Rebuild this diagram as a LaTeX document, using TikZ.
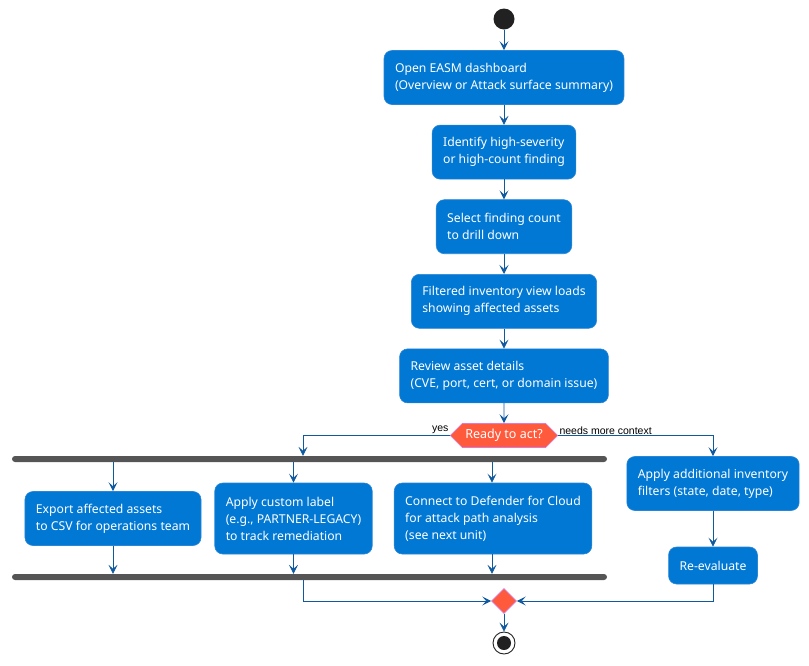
\documentclass[tikz,border=0pt]{standalone}
\usepackage{fontspec}
\setmainfont{Noto Sans}
\newfontfamily\labelfont{Liberation Sans}
\usepackage{xcolor}
\usepackage{tikz}
\usetikzlibrary{shapes.geometric, shapes.symbols, arrows.meta, positioning}
\definecolor{stepblue}{HTML}{0078D4}
\definecolor{stepedge}{HTML}{2B85D6}
\definecolor{flowline}{HTML}{0F5A9E}
\definecolor{choicered}{HTML}{FF5A3C}
\definecolor{choiceedge}{HTML}{D77AD8}
\definecolor{bargray}{HTML}{555555}
\tikzstyle{stepbox} = [rectangle, rounded corners=8pt, minimum height=54pt, inner xsep=11pt, align=left, draw=stepedge, line width=0.6pt, fill=stepblue, text=white, font=\fontsize{12.2}{17}\selectfont]
\tikzstyle{choice} = [signal, signal to=west and east, signal pointer angle=90, minimum height=24pt, inner xsep=3pt, draw=choiceedge, line width=0.6pt, fill=choicered, text=white, font=\fontsize{12.5}{14}\selectfont]
\tikzstyle{merger} = [diamond, minimum size=25pt, inner sep=0pt, draw=choiceedge, line width=0.6pt, fill=choicered]
\tikzstyle{syncbar} = [rectangle, rounded corners=3pt, minimum width=595pt, minimum height=6pt, inner sep=0pt, fill=bargray]
\tikzstyle{arrow} = [line width=0.8pt, -{Stealth[length=9pt, width=9pt, inset=4pt]}, flowline]
\tikzstyle{branchlabel} = [font=\labelfont\fontsize{10.5}{12}\selectfont, text=black, inner sep=1pt]

\begin{document}
\begin{tikzpicture}[x=1pt, y=-1pt, node distance=20pt]
    \useasboundingbox (0,0) rectangle (809,665);

    \node (start) [circle, fill=black!87, minimum size=21pt, inner sep=0pt] at (504,19) {};
    \node (open) [stepbox] at (504,77.5) {Open EASM dashboard\\(Overview or Attack surface summary)};
    \node (identify) [stepbox, below=of open] {Identify high-severity\\or high-count finding};
    \node (select) [stepbox, below=of identify] {Select finding count\\to drill down};
    \node (inventory) [stepbox, below=of select] {Filtered inventory view loads\\showing affected assets};
    \node (review) [stepbox, below=of inventory] {Review asset details\\(CVE, port, cert, or domain issue)};
    \node (ready) [choice, below=of review] {Ready to act?};

    % parallel actions
    \node (fork) [syncbar] at (309.5,459) {};
    \node (export) [stepbox] at (113,518.5) {Export affected assets\\to CSV for operations team};
    \node (label) [stepbox, minimum height=71pt] at (293.5,518.5) {Apply custom label\\(e.g., PARTNER-LEGACY)\\to track remediation};
    \node (defender) [stepbox, minimum height=71pt] at (493,518.5) {Connect to Defender for Cloud\\for attack path analysis\\(see next unit)};
    \node (join) [syncbar] at (309.5,577) {};

    % more context branch
    \node (filters) [stepbox] at (713,483.5) {Apply additional inventory\\filters (state, date, type)};
    \node (reeval) [stepbox, minimum height=37pt] at (713,565.5) {Re-evaluate};

    \node (merge) [merger] at (504,601) {};
    \node (stop) [circle, draw=black!87, line width=0.9pt, fill=white, minimum size=22pt, inner sep=0pt,
        path picture={\fill[black!87] (path picture bounding box.center) circle (7pt);}] at (504,643) {};

    \draw [arrow] (start) -- (open);
    \draw [arrow] (open) -- (identify);
    \draw [arrow] (identify) -- (select);
    \draw [arrow] (select) -- (inventory);
    \draw [arrow] (inventory) -- (review);
    \draw [arrow] (review) -- (ready);

    \draw [arrow] (ready.west) node [branchlabel, above left] {yes} -| ([xshift=-6.5pt]fork.north);
    \draw [arrow] (ready.east) node [branchlabel, above right] {needs more context} -| (filters.north);

    \draw [arrow] (fork.south -| export.north) -- (export.north);
    \draw [arrow] (fork.south -| label.north) -- (label.north);
    \draw [arrow] ([xshift=-1pt]fork.south -| defender.north) -- ([xshift=-1pt]defender.north);
    \draw [arrow] (export.south) -- (join.north -| export.south);
    \draw [arrow] (label.south) -- (join.north -| label.south);
    \draw [arrow] ([xshift=-1pt]defender.south) -- ([xshift=-1pt]join.north -| defender.south);

    \draw [arrow] (filters) -- (reeval);
    \draw [arrow] ([xshift=-6.5pt]join.south) |- (merge.west);
    \draw [arrow] (reeval.south) |- (merge.east);
    \draw [arrow] (merge) -- (stop);

\end{tikzpicture}
\end{document}
